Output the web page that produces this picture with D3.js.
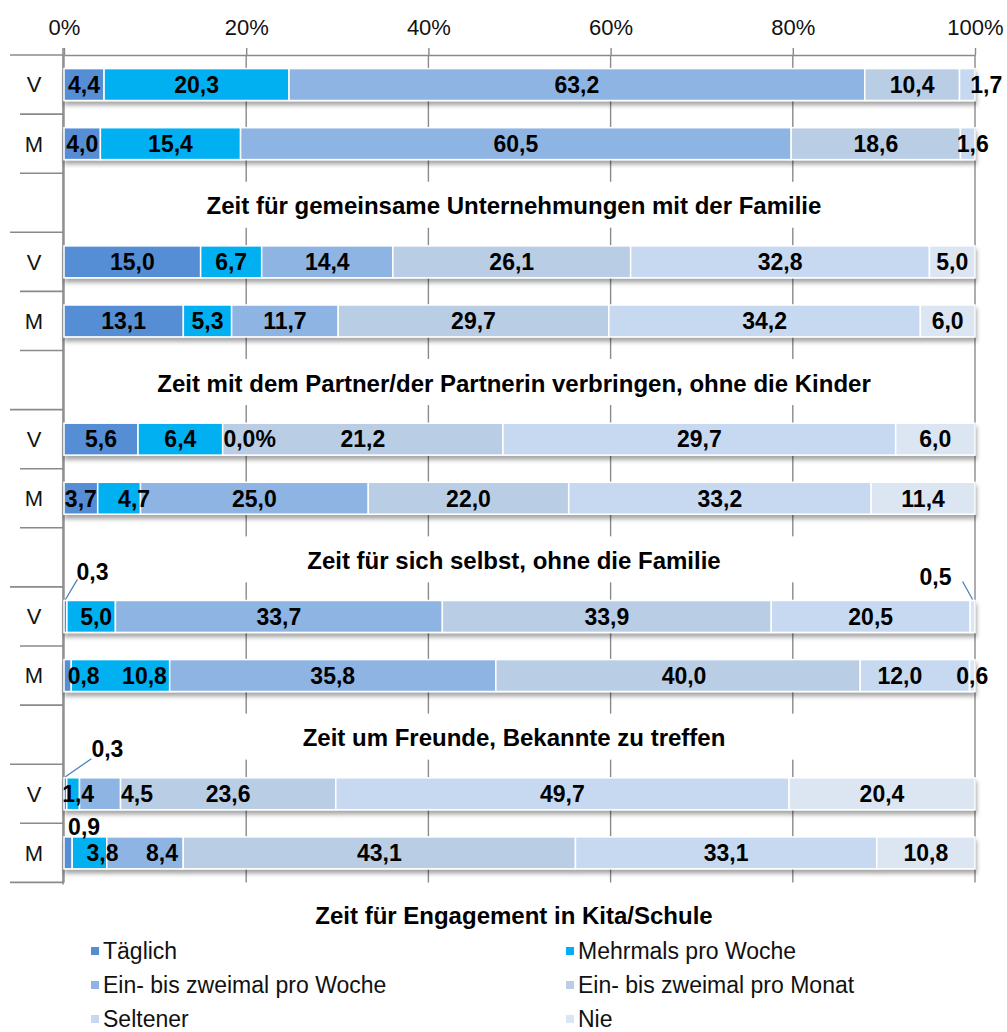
<!DOCTYPE html>
<html>
<head>
<meta charset="utf-8">
<script src="https://cdn.jsdelivr.net/npm/d3@7"></script>
<style>
  body { margin: 0; background: #fff; }
  svg { font-family: "Liberation Sans", Arial, sans-serif; }
</style>
</head>
<body>
<div id="chart"></div>
<script>
// answer categories (stack order)
var series = ["Täglich", "Mehrmals pro Woche", "Ein- bis zweimal pro Woche",
  "Ein- bis zweimal pro Monat", "Seltener", "Nie"];
var colors = ["#558ed5", "#00b0f0", "#8eb4e3", "#b9cde5", "#c6d9f1", "#dce6f2"];

var topics = [
  "Zeit für gemeinsame Unternehmungen mit der Familie",
  "Zeit mit dem Partner/der Partnerin verbringen, ohne die Kinder",
  "Zeit für sich selbst, ohne die Familie",
  "Zeit um Freunde, Bekannte zu treffen",
  "Zeit für Engagement in Kita/Schule"
];
var persons = ["V", "M"];
var tickValues = [0, 0.2, 0.4, 0.6, 0.8, 1];

// one value per row: topic 1 V, topic 1 M, topic 2 V, ... (null = no answer given)
var taeglich     = [4.4, 4.0, 15.0, 13.1, 5.6, 3.7, 0.3, 0.8, 0.3, 0.9];
var mehrmals     = [20.3, 15.4, 6.7, 5.3, 6.4, 4.7, 5.0, 10.8, 1.4, 3.8];
var wocheEinZwei = [63.2, 60.5, 14.4, 11.7, 0.0, 25.0, 33.7, 35.8, 4.5, 8.4];
var monatEinZwei = [10.4, 18.6, 26.1, 29.7, 21.2, 22.0, 33.9, 40.0, 23.6, 43.1];
var seltener     = [1.7, 1.6, 32.8, 34.2, 29.7, 33.2, 20.5, 12.0, 49.7, 33.1];
var nie          = [null, null, 5.0, 6.0, 6.0, 11.4, 0.5, 0.6, 20.4, 10.8];
var columns = [taeglich, mehrmals, wocheEinZwei, monatEinZwei, seltener, nie];

// label tweaks, key "row-series"
var labelText = { "4-2": "0,0%" };
var labelNudge = {
  "0-4": [19, 0], "1-4": [5, 0],
  "4-2": [27, 0], "5-1": [15, 0],
  "6-0": [27, -45], "6-1": [5, 0], "6-5": [-37, -40],
  "7-0": [16, 0], "7-1": [24, 0], "7-3": [6, 0], "7-4": [-15, 0],
  "8-0": [42, -45], "8-1": [5, 0], "8-2": [37, 0],
  "9-0": [16, -26], "9-1": [13, 0], "9-2": [17, 0]
};
// leader line end, relative to label centre
var leaders = { "6-0": [-15, 8], "6-5": [27, 5], "8-0": [-16, 10] };

var width = 1007, height = 1032;
var axisY = 55, step = 59.1;

var rows = [];
topics.forEach(function(t, g) {
  persons.forEach(function(p, i) {
    var r = { idx: g * 2 + i, slot: g + "-" + p, person: p };
    series.forEach(function(s, k) { r[s] = columns[k][g * 2 + i]; });
    rows.push(r);
  });
});

var slots = [];
topics.forEach(function(t, g) { slots.push(g + "-V", g + "-M", g + "-T"); });

var x = d3.scaleLinear().domain([0, 1]).range([64, 975]);
var y = d3.scaleBand()
  .domain(slots)
  .range([axisY, axisY + slots.length * step])
  .paddingInner(0.46)
  .paddingOuter(0.23);
var plotBottom = axisY + (slots.length - 1) * step;
var bw = y.bandwidth();

var stack = d3.stack()
  .keys(series)
  .value(function(d, k) { return d[k] == null ? 0 : d[k]; })
  .offset(d3.stackOffsetExpand);
var stacked = stack(rows);

var svg = d3.select("#chart").append("svg")
  .attr("width", width)
  .attr("height", height);

var defs = svg.append("defs");
defs.append("filter")
  .attr("id", "shadow")
  .attr("x", "-5%").attr("y", "-30%").attr("width", "110%").attr("height", "180%")
  .append("feDropShadow")
  .attr("dx", 1).attr("dy", 4)
  .attr("stdDeviation", 2)
  .attr("flood-color", "#000")
  .attr("flood-opacity", 0.35);

// gridlines
svg.append("g")
  .selectAll("line")
  .data(tickValues)
  .enter().append("line")
  .attr("x1", function(d) { return x(d); })
  .attr("x2", function(d) { return x(d); })
  .attr("y1", axisY)
  .attr("y2", plotBottom)
  .attr("stroke", "#8a8a8a")
  .attr("stroke-width", 1.4);

// white bands behind the topic titles hide the gridlines
svg.append("g")
  .selectAll("rect")
  .data(slots.filter(function(s, i) { return s.slice(-1) == "T" && i < slots.length - 1; }))
  .enter().append("rect")
  .attr("x", x(0) + 2)
  .attr("width", x(1) - x(0) - 4)
  .attr("y", function(s) { return y(s) + bw / 2 - 21; })
  .attr("height", 46)
  .attr("fill", "#fff");

// top axis
var axis = svg.append("g")
  .attr("transform", "translate(0," + axisY + ")")
  .call(d3.axisTop(x)
    .tickValues(tickValues)
    .tickFormat(d3.format(".0%"))
    .tickSizeInner(7)
    .tickSizeOuter(0)
    .tickPadding(13));
axis.select(".domain").attr("stroke", "#8a8a8a").attr("stroke-width", 1.6);
axis.selectAll(".tick line").attr("stroke", "#8a8a8a").attr("stroke-width", 1.4);
axis.selectAll(".tick text")
  .attr("font-size", 22)
  .attr("font-family", "Liberation Sans, Arial, sans-serif")
  .attr("fill", "#111");

// left axis + category separators
svg.append("line")
  .attr("x1", 63).attr("x2", 63)
  .attr("y1", axisY - 7).attr("y2", plotBottom + 2)
  .attr("stroke", "#8a8a8a").attr("stroke-width", 1.6);

svg.append("g")
  .selectAll("line")
  .data(d3.range(slots.length))
  .enter().append("line")
  .attr("x1", function(k) { return (k % 3 == 0 || k == slots.length - 1) ? 10 : 20; })
  .attr("x2", 63)
  .attr("y1", function(k) { return axisY + k * step; })
  .attr("y2", function(k) { return axisY + k * step; })
  .attr("stroke", "#8a8a8a")
  .attr("stroke-width", 1.6);

svg.append("g")
  .selectAll("text")
  .data(rows)
  .enter().append("text")
  .attr("x", 34)
  .attr("y", function(d) { return y(d.slot) + bw / 2; })
  .attr("dy", "0.36em")
  .attr("text-anchor", "middle")
  .attr("font-size", 22)
  .attr("fill", "#111")
  .text(function(d) { return d.person; });

// bars
var bars = svg.append("g").attr("filter", "url(#shadow)");
bars.selectAll("g")
  .data(stacked)
  .enter().append("g")
  .attr("fill", function(d, i) { return colors[i]; })
  .selectAll("rect")
  .data(function(d) { return d; })
  .enter().append("rect")
  .attr("x", function(d) { return x(d[0]); })
  .attr("width", function(d) { return Math.max(0, x(d[1]) - x(d[0])); })
  .attr("y", function(d) { return y(d.data.slot); })
  .attr("height", bw)
  .attr("stroke", "#fff")
  .attr("stroke-width", 1.5);

// value labels
var labels = [];
stacked.forEach(function(s, k) {
  s.forEach(function(d) {
    var v = d.data[series[k]];
    if (v == null) return;
    var key = d.data.idx + "-" + k;
    if (v == 0 && !labelText[key]) return;
    var n = labelNudge[key] || [0, 0];
    labels.push({
      key: key,
      text: labelText[key] || v.toFixed(1).replace(".", ","),
      x: (x(d[0]) + x(d[1])) / 2 + n[0],
      y: y(d.data.slot) + bw / 2 + n[1],
      segX: (x(d[0]) + x(d[1])) / 2,
      barTop: y(d.data.slot)
    });
  });
});

svg.append("g")
  .selectAll("line")
  .data(labels.filter(function(l) { return leaders[l.key]; }))
  .enter().append("line")
  .attr("x1", function(l) { return l.segX; })
  .attr("y1", function(l) { return l.barTop - 1; })
  .attr("x2", function(l) { return l.x + leaders[l.key][0]; })
  .attr("y2", function(l) { return l.y + leaders[l.key][1]; })
  .attr("stroke", "#4f81bd")
  .attr("stroke-width", 1.3);

svg.append("g")
  .selectAll("text")
  .data(labels)
  .enter().append("text")
  .attr("x", function(l) { return l.x; })
  .attr("y", function(l) { return l.y; })
  .attr("dy", "0.36em")
  .attr("text-anchor", "middle")
  .attr("font-size", 23)
  .attr("font-weight", "bold")
  .attr("fill", "#000")
  .text(function(l) { return l.text; });

// topic titles
svg.append("g")
  .selectAll("text")
  .data(topics)
  .enter().append("text")
  .attr("x", 514)
  .attr("y", function(t, g) { return y(g + "-T") + bw / 2 + 3; })
  .attr("dy", "0.36em")
  .attr("text-anchor", "middle")
  .attr("font-size", 24)
  .attr("font-weight", "bold")
  .attr("fill", "#000")
  .text(function(t) { return t; });

// legend
var legend = svg.append("g")
  .selectAll("g")
  .data(series)
  .enter().append("g")
  .attr("transform", function(s, i) {
    return "translate(" + (i % 2 == 0 ? 91 : 566) + "," + (951 + Math.floor(i / 2) * 34) + ")";
  });
legend.append("rect")
  .attr("x", 0).attr("y", -4)
  .attr("width", 8).attr("height", 8)
  .attr("fill", function(s, i) { return colors[i]; });
legend.append("text")
  .attr("x", 12)
  .attr("dy", "0.34em")
  .attr("font-size", 23)
  .attr("fill", "#111")
  .text(function(s) { return s; });
</script>
</body>
</html>
